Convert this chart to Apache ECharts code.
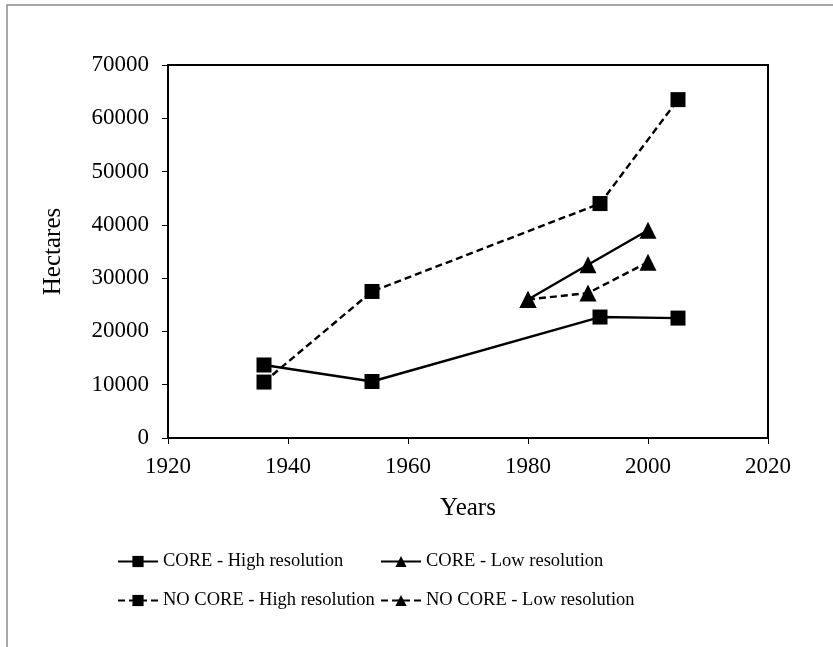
<!DOCTYPE html>
<html><head><meta charset="utf-8">
<script src="https://cdn.jsdelivr.net/npm/echarts@6/dist/echarts.min.js"></script>
<style>html,body{margin:0;padding:0;background:#fff}#c{width:833px;height:647px}</style>
</head><body><div id="c"></div>
<script>
var coreHighYears = [1936, 1954, 1992, 2005];
var coreHighValues = [13700, 10600, 22700, 22500];
var noCoreHighYears = [1936, 1954, 1992, 2005];
var noCoreHighValues = [10500, 27500, 44000, 63500];
var coreLowYears = [1980, 1990, 2000];
var coreLowValues = [26000, 32500, 39000];
var noCoreLowYears = [1980, 1990, 2000];
var noCoreLowValues = [26000, 27200, 33000];
var seriesNames = ['CORE - High resolution', 'NO CORE - High resolution', 'CORE - Low resolution', 'NO CORE - Low resolution'];

function pairs(xs, ys){ return xs.map(function(x,i){return [x, ys[i]];}); }
var font = '"Liberation Serif", "Times New Roman", serif';
function mk(name, xs, ys, sym, dashed){
  return {
    name: name, type: 'line', data: pairs(xs, ys),
    symbol: sym, symbolSize: sym === 'rect' ? 15 : 17, showSymbol: true,
    itemStyle: {color: '#000'},
    lineStyle: {color: '#000', width: 2.4, type: dashed ? [7,4] : 'solid'},
    emphasis: {disabled: true}, animation: false, z: 3
  };
}
var chart = echarts.init(document.getElementById('c'), null, {renderer: 'canvas'});
chart.setOption({
  animation: false,
  backgroundColor: '#fff',
  textStyle: {fontFamily: font, color: '#000'},
  graphic: [{type: 'rect', shape: {x: 7, y: 5, width: 900, height: 700}, style: {fill: 'none', stroke: '#8c8c8c', lineWidth: 1.5}, silent: true}],
  grid: {left: 168, right: 65, top: 65, bottom: 209, show: true, borderColor: '#000', borderWidth: 2, backgroundColor: 'transparent'},
  xAxis: {
    type: 'value', min: 1920, max: 2020, interval: 20,
    name: 'Years', nameLocation: 'middle', nameGap: 58,
    nameTextStyle: {fontFamily: font, fontSize: 25, color: '#000'},
    axisLine: {show: true, lineStyle: {color: '#000', width: 2}},
    axisTick: {show: true, inside: false, length: 6, lineStyle: {color: '#000', width: 1}},
    axisLabel: {fontFamily: font, fontSize: 23, color: '#000', margin: 17, formatter: function(v){return String(v);}},
    splitLine: {show: false}
  },
  yAxis: {
    type: 'value', min: 0, max: 70000, interval: 10000,
    name: 'Hectares', nameLocation: 'middle', nameGap: 102, nameRotate: 90,
    nameTextStyle: {fontFamily: font, fontSize: 25, color: '#000'},
    axisLine: {show: true, lineStyle: {color: '#000', width: 2}},
    axisTick: {show: true, inside: false, length: 6, lineStyle: {color: '#000', width: 1}},
    axisLabel: {fontFamily: font, fontSize: 23, color: '#000', margin: 19, formatter: function(v){return String(v);}},
    splitLine: {show: false}
  },
  legend: [
    {data: [seriesNames[0], seriesNames[1]], orient: 'vertical', left: 117, top: 552, padding: 0, itemGap: 20, itemWidth: 40, itemHeight: 14,
     textStyle: {fontFamily: font, fontSize: 18.5, color: '#000'}, selectedMode: false},
    {data: [seriesNames[2], seriesNames[3]], orient: 'vertical', left: 380, top: 552, padding: 0, itemGap: 20, itemWidth: 40, itemHeight: 14,
     textStyle: {fontFamily: font, fontSize: 18.5, color: '#000'}, selectedMode: false}
  ],
  series: [
    mk(seriesNames[0], coreHighYears, coreHighValues, 'rect', false),
    mk(seriesNames[1], noCoreHighYears, noCoreHighValues, 'rect', true),
    mk(seriesNames[2], coreLowYears, coreLowValues, 'triangle', false),
    mk(seriesNames[3], noCoreLowYears, noCoreLowValues, 'triangle', true)
  ]
});
</script></body></html>
